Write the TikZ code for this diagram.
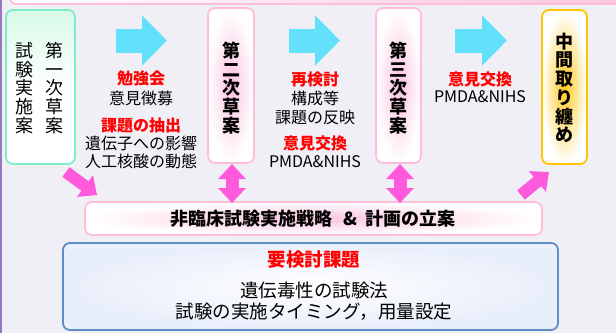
\documentclass[tikz,border=0pt]{standalone}
\usepackage{fontspec}
\setmainfont{Noto Sans CJK JP}
\usetikzlibrary{arrows.meta}
\definecolor{bg}{RGB}{240,239,246}
\definecolor{purpleL}{RGB}{150,120,190}
\definecolor{mintB}{RGB}{125,238,198}
\definecolor{mintG}{RGB}{215,250,232}
\definecolor{pinkB}{RGB}{255,190,215}
\definecolor{pinkG}{RGB}{250,195,222}
\definecolor{goldB}{RGB}{255,195,0}
\definecolor{goldG}{RGB}{255,200,30}
\definecolor{blueB}{RGB}{92,142,200}
\definecolor{blueG}{RGB}{232,238,250}
\definecolor{cyanA}{RGB}{100,225,250}
\definecolor{magA}{RGB}{255,90,220}
\definecolor{redT}{RGB}{255,0,0}
\tikzset{
  box/.style={rounded corners=7pt, line width=1.8pt, inner sep=0pt},
  vtext/.style={align=center, inner sep=0pt, font=\fontsize{18}{18.75}\selectfont},
  vbold/.style={vtext, font=\fontsize{18}{18.75}\selectfont\bfseries},
  body/.style={inner sep=0pt, font=\fontsize{16}{19}\selectfont},
  redh/.style={body, text=redT, font=\fontsize{16}{19}\selectfont\bfseries},
  cyanarrow/.style={draw=cyanA, line width=24pt, -{Triangle[length=25pt,width=49pt]}},
  magarrow/.style={draw=magA, line width=12pt, -{Triangle[length=15pt,width=26pt]}},
  magdbl/.style={draw=magA, line width=13pt, {Triangle[length=15pt,width=27pt]}-{Triangle[length=15pt,width=27pt]}}
}
\begin{document}
\begin{tikzpicture}[x=1pt,y=-1pt]
\useasboundingbox (0,0) rectangle (616,333);
\fill[bg] (0,0) rectangle (616,333);
\draw[purpleL, line width=1.6pt] (1,0) -- (1,333);
% top band
\draw[pinkB, line width=1.8pt, rounded corners=6pt, left color=white, right color=pinkG] (10,-20) rectangle (640,4);
% boxes
\node[box, draw=mintB, top color=mintG, bottom color=white, middle color=white, minimum width=69pt, minimum height=154pt] (b1) at (40.5,87) {};
\node[box, draw=pinkB, inner color=pinkG, outer color=white, minimum width=46pt, minimum height=155pt] (b2) at (231,85.5) {};
\node[box, draw=pinkB, inner color=pinkG, outer color=white, minimum width=45pt, minimum height=155pt] (b3) at (398.5,85.5) {};
\node[box, draw=goldB, inner color=goldG, outer color=white, minimum width=45pt, minimum height=154pt] (b4) at (564.5,87) {};
\node[vtext] (t1a) at (54,88) {第\\一\\次\\草\\案};
\node[vtext] (t1b) at (25,88) {試\\験\\実\\施\\案};
\node[vbold] (t2) at (b2.center |- 0,88) {第\\二\\次\\草\\案};
\node[vbold] (t3) at (b3.center |- 0,88) {第\\三\\次\\草\\案};
\node[vbold] (t4) at (b4.center |- 0,88) {中\\間\\取\\り\\纏\\め};
% cyan arrows
\coordinate (c1s) at (116,40.5); \coordinate (c1e) at (167,40.5);
\coordinate (c2s) at (289,40.5); \coordinate (c2e) at (340,40.5);
\coordinate (c3s) at (455,40.5); \coordinate (c3e) at (507,40.5);
\draw[cyanarrow] (c1s) -- (c1e);
\draw[cyanarrow] (c2s) -- (c2e);
\draw[cyanarrow] (c3s) -- (c3e);
% column texts
\node[redh] (k1) at (141,78) {勉強会};
\node[body] (k2) at (141,98) {意見徴募};
\node[redh] (k3) at (141,125) {課題の抽出};
\node[body] (k4) at (141,143) {遺伝子への影響};
\node[body] (k5) at (141,161) {人工核酸の動態};
\node[redh] (m1) at (315,79) {再検討};
\node[body] (m2) at (315,98) {構成等};
\node[body] (m3) at (315,117) {課題の反映};
\node[redh] (m4) at (315,143) {意見交換};
\node[body] (m5) at (315,162) {PMDA\&NIHS};
\node[redh] (n1) at (480,79) {意見交換};
\node[body] (n2) at (480,97) {PMDA\&NIHS};
% strategy box
\node[box, draw=pinkB, inner color=pinkG, outer color=white, minimum width=457pt, minimum height=33pt] (s) at (313.5,218.5) {};
\node[inner sep=0pt, font=\fontsize{18}{20}\selectfont\bfseries] (st) at (313,218.5) {非臨床試験実施戦略\hspace{0.6em}\&\hspace{0.45em}計画の立案};
% magenta arrows
\coordinate (d1s) at (66,172); \coordinate (d1e) at (97,195);
\coordinate (d2s) at (232,164); \coordinate (d2e) at (232,203);
\coordinate (d3s) at (400,164); \coordinate (d3e) at (400,203);
\coordinate (d4s) at (521,195); \coordinate (d4e) at (549,172);
\draw[magarrow] (d1s) -- (d1e);
\draw[magdbl] (d2s) -- (d2e);
\draw[magdbl] (d3s) -- (d3e);
\draw[magarrow] (d4s) -- (d4e);
% blue box
\node[box, draw=blueB, inner color=white, outer color=blueG, minimum width=495pt, minimum height=87pt] (q) at (310.5,286.5) {};
\node[inner sep=0pt, text=redT, font=\fontsize{18.5}{22}\selectfont\bfseries] (q1) at (314,260) {要検討課題};
\node[inner sep=0pt, font=\fontsize{18.5}{22}\selectfont] (q2) at (314,290) {遺伝毒性の試験法};
\node[inner sep=0pt, font=\fontsize{18.5}{22}\selectfont] (q3) at (314,312) {試験の実施タイミング，用量設定};
\end{tikzpicture}
\end{document}
